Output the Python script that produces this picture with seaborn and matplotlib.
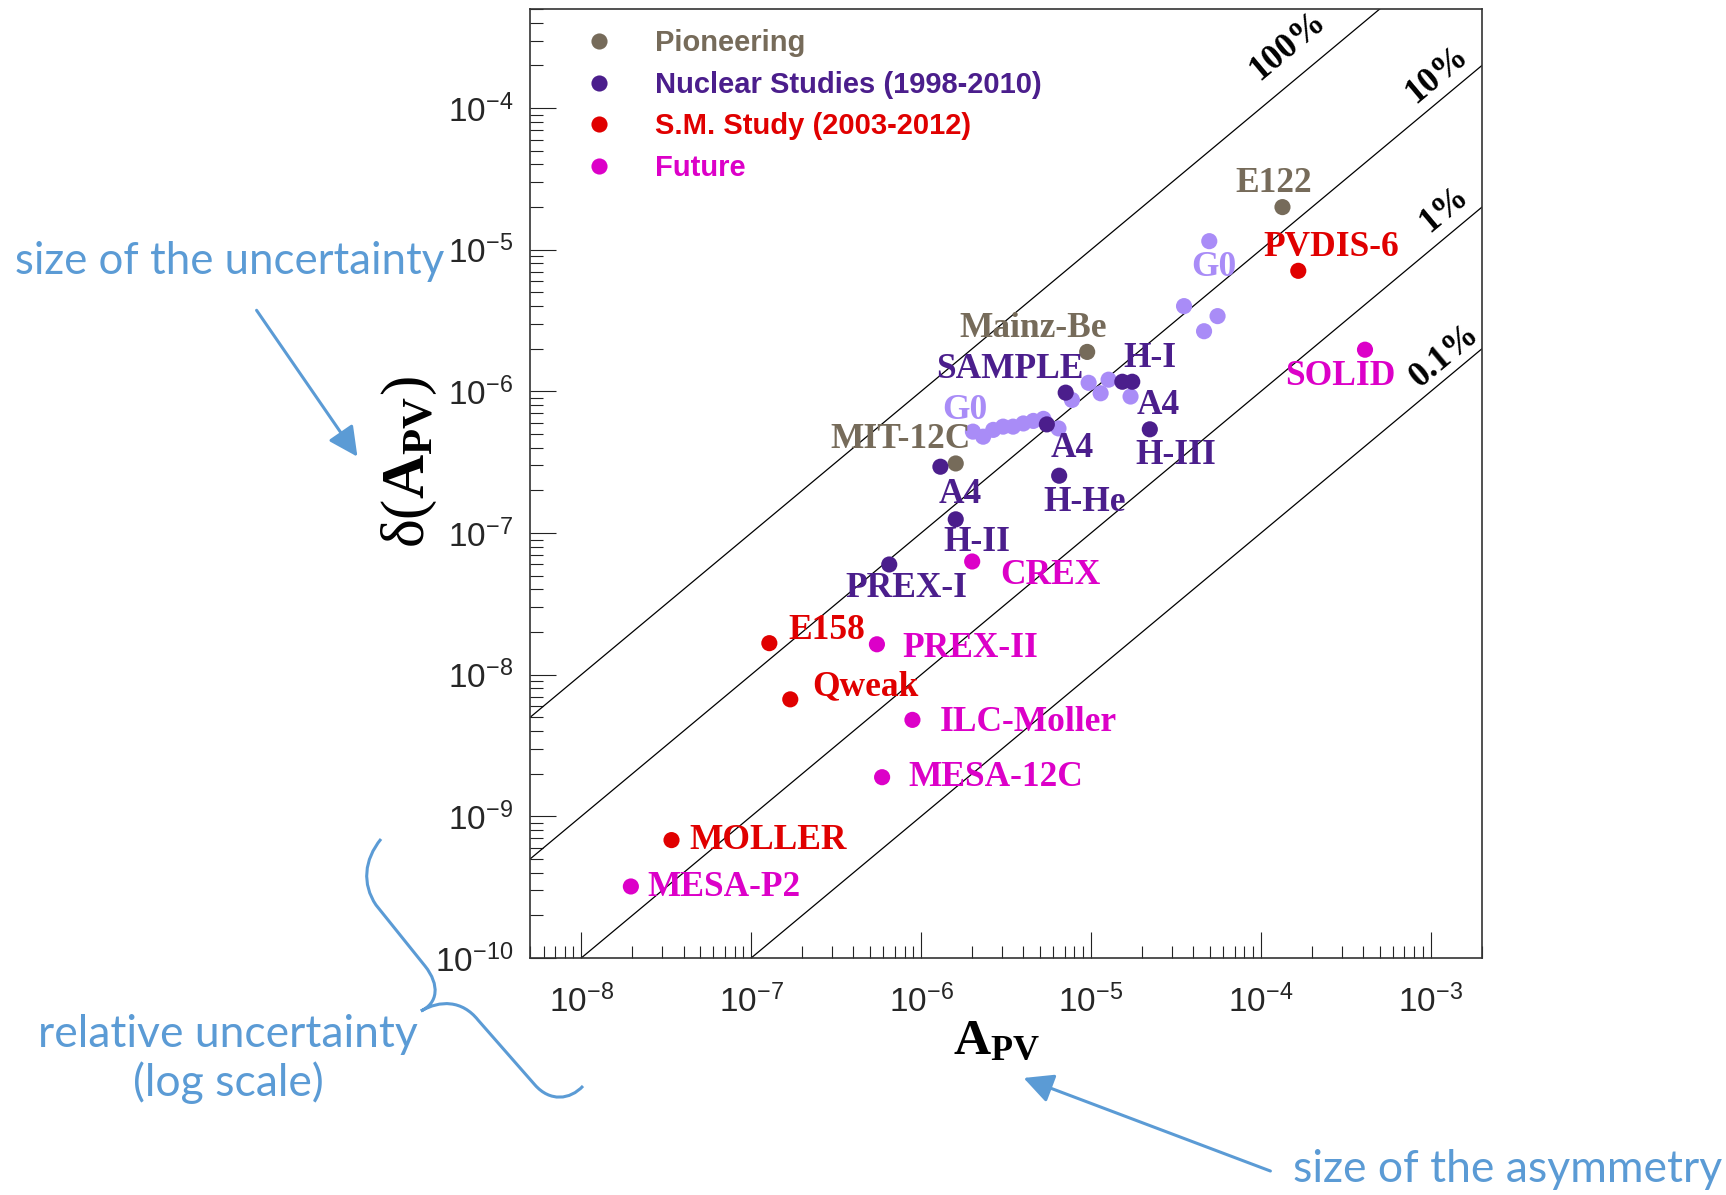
# -------------------------------
# Parity-violation experiments: A_PV vs delta(A_PV)
# -------------------------------

import numpy as np
import pandas as pd
import matplotlib
matplotlib.use("Agg")
import matplotlib.pyplot as plt
import seaborn as sns
from matplotlib.path import Path
from matplotlib.patches import PathPatch, FancyArrowPatch
from matplotlib.ticker import LogLocator, NullFormatter

# -------------------------------
# Data
# -------------------------------

groups = ["Pioneering", "Nuclear Studies (1998-2010)", "S.M. Study (2003-2012)", "Future"]
group_colors = ["#766b5a", "#4b1e8c", "#e00000", "#dc00c8"]
g0_color = "#a98cf7"

pioneer_names = ["E122", "Mainz-Be", "MIT-12C"]
pioneer_apv = [1.34e-4, 9.5e-6, 1.6e-6]
pioneer_err = [2.0e-5, 1.9e-6, 3.1e-7]

nuclear_names = ["SAMPLE", "", "H-I", "A4", "A4", "H-He", "A4", "H-II", "PREX-I"]
nuclear_apv = [7.1e-6, 1.53e-5, 1.75e-5, 5.5e-6, 2.22e-5, 6.5e-6, 1.3e-6, 1.6e-6, 6.5e-7]
nuclear_err = [9.8e-7, 1.17e-6, 1.17e-6, 5.85e-7, 5.4e-7, 2.54e-7, 2.94e-7, 1.25e-7, 6.0e-8]

sm_names = ["PVDIS-6", "E158", "Qweak", "MOLLER"]
sm_apv = [1.66e-4, 1.28e-7, 1.7e-7, 3.4e-8]
sm_err = [7.1e-6, 1.67e-8, 6.7e-9, 6.8e-10]

future_names = ["SOLID", "CREX", "PREX-II", "ILC-Moller", "MESA-12C", "MESA-P2"]
future_apv = [4.1e-4, 2.0e-6, 5.5e-7, 8.9e-7, 5.9e-7, 1.96e-8]
future_err = [1.97e-6, 6.3e-8, 1.64e-8, 4.8e-9, 1.89e-9, 3.2e-10]

g0_apv = [2.02e-6, 2.32e-6, 2.66e-6, 3.04e-6, 3.48e-6, 4.0e-6, 4.58e-6, 5.25e-6, 6.44e-6,
          7.73e-6, 9.69e-6, 1.14e-5, 1.27e-5, 1.71e-5, 4.97e-5, 3.53e-5, 5.56e-5, 4.63e-5]
g0_err = [5.2e-7, 4.79e-7, 5.35e-7, 5.64e-7, 5.64e-7, 5.94e-7, 6.19e-7, 6.4e-7, 5.48e-7,
          8.7e-7, 1.15e-6, 9.7e-7, 1.21e-6, 9.2e-7, 1.15e-5, 4.0e-6, 3.4e-6, 2.66e-6]

rel_fractions = [1.0, 0.1, 0.01, 0.001]
rel_labels = ["100%", "10%", "1%", "0.1%"]

# -------------------------------
# Label placement (offsets in points, alignment)
# -------------------------------

pioneer_offsets = [(-6, 17, "center"), (-39, 17, "center"), (-40, 17, "center")]
nuclear_offsets = [(-40, 17, "center"), (0, 0, "center"), (13, 17, "center"), (18, -17, "center"),
                   (6, 17, "center"), (18, -19, "center"), (14, -20, "center"), (15, -17, "center"),
                   (12, -17, "center")]
sm_offsets = [(24, 17, "center"), (14, 9, "left"), (16, 9, "left"), (13, 0, "left")]
future_offsets = [(-18, -19, "center"), (20, -10, "left"), (18, -3, "left"), (20, -2, "left"),
                  (19, 0, "left"), (12, -1, "left")]
rel_label_pos = [(1.44e-4, 2.74e-4), (1.09e-3, 1.71e-4), (1.2e-3, 1.93e-5), (1.2e-3, 1.79e-6)]

# -------------------------------
# Build table
# -------------------------------

df = pd.concat([
    pd.DataFrame({"apv": pioneer_apv, "err": pioneer_err, "name": pioneer_names, "group": groups[0]}),
    pd.DataFrame({"apv": nuclear_apv, "err": nuclear_err, "name": nuclear_names, "group": groups[1]}),
    pd.DataFrame({"apv": sm_apv, "err": sm_err, "name": sm_names, "group": groups[2]}),
    pd.DataFrame({"apv": future_apv, "err": future_err, "name": future_names, "group": groups[3]}),
], ignore_index=True)
offsets = pioneer_offsets + nuclear_offsets + sm_offsets + future_offsets

# -------------------------------
# Style
# -------------------------------

sns.set_theme(style="white")
plt.rcParams["font.family"] = ["Liberation Sans", "DejaVu Sans"]
plt.rcParams["axes.unicode_minus"] = False
plt.rcParams["mathtext.fontset"] = "custom"
plt.rcParams["mathtext.rm"] = "Liberation Serif"
plt.rcParams["mathtext.bf"] = "Liberation Serif:bold"
plt.rcParams["mathtext.it"] = "Liberation Serif:italic"

label_font = dict(family="Liberation Serif", weight="bold", size=25.5)
blue = "#5b9bd5"

fig = plt.figure(figsize=(17.26, 11.95), dpi=100)
ax = fig.add_axes([0.3071, 0.1983, 0.5515, 0.7941])

# relative-uncertainty lines
xs = np.array([5e-9, 2e-3])
for f in rel_fractions:
    ax.plot(xs, f * xs, color="black", lw=0.9, zorder=1)
for lab, (lx, ly) in zip(rel_labels, rel_label_pos):
    ax.text(lx, ly, lab, rotation=40, rotation_mode="anchor", ha="center", va="center",
            color="black", **label_font)

# G0 points (no legend entry)
sns.scatterplot(x=g0_apv, y=g0_err, color=g0_color, s=135, edgecolor="none",
                legend=False, ax=ax, zorder=2)

# main groups
sns.scatterplot(data=df, x="apv", y="err", hue="group", hue_order=groups,
                palette=group_colors, s=135, edgecolor="none", ax=ax, zorder=3)

# experiment labels
color_of = dict(zip(groups, group_colors))
for (_, row), (dx, dy, ha) in zip(df.iterrows(), offsets):
    if row["name"]:
        ax.annotate(row["name"], (row["apv"], row["err"]), xytext=(dx, dy),
                    textcoords="offset points", ha=ha, va="center",
                    color=color_of[row["group"]], **label_font)
ax.annotate("H-III", (nuclear_apv[4], nuclear_err[4]), xytext=(19, -19),
            textcoords="offset points", ha="center", va="center",
            color=group_colors[1], **label_font)
ax.annotate("G0", (g0_apv[0], g0_err[0]), xytext=(-6, 15), textcoords="offset points",
            ha="center", va="center", color=g0_color, **label_font)
ax.annotate("G0", (g0_apv[14], g0_err[14]), xytext=(3, -19), textcoords="offset points",
            ha="center", va="center", color=g0_color, **label_font)

# -------------------------------
# Axes
# -------------------------------

ax.set(xscale="log", yscale="log", xlim=(5e-9, 2e-3), ylim=(1e-10, 5e-4))
for axis in (ax.xaxis, ax.yaxis):
    axis.set_major_locator(LogLocator(base=10, numticks=20))
    axis.set_minor_locator(LogLocator(base=10, subs=np.arange(2, 10), numticks=200))
    axis.set_minor_formatter(NullFormatter())

ax.tick_params(which="both", direction="in", top=False, right=False, left=True, bottom=True,
               color="#222222", width=0.8)
ax.tick_params(which="major", length=19, labelsize=24)
ax.tick_params(which="minor", length=9)
ax.tick_params(axis="x", which="major", pad=19)
ax.tick_params(axis="y", which="major", pad=12)
for sp in ax.spines.values():
    sp.set_color("#333333")
    sp.set_linewidth(1.2)

ax.set_xlabel(r"$\mathbf{A_{PV}}$", fontsize=37, color="black")
ax.xaxis.set_label_coords(0.4897, -0.0866)
ax.xaxis.label.set_va("center")
ax.set_ylabel(r"$\mathrm{\delta(}\mathbf{A_{PV}}\mathrm{)}$", fontsize=44, color="black")
ax.yaxis.set_label_coords(-0.1266, 0.5227)
ax.yaxis.label.set_va("center")

# legend
old = ax.get_legend()
handles = old.legend_handles
labels = [t.get_text() for t in old.get_texts()]
old.remove()
leg = ax.legend(handles, labels, loc="upper left", bbox_to_anchor=(0.042, 0.979),
                frameon=False, prop=dict(family="Liberation Sans", weight="bold", size=21),
                handletextpad=0.9, labelspacing=0.47, borderpad=0, borderaxespad=0)
for txt, col in zip(leg.get_texts(), group_colors):
    txt.set_color(col)

# -------------------------------
# Explanatory annotations
# -------------------------------

W, H = 1726, 1195

fig.text(15 / W, 1 - 261 / H, "size of the uncertainty", family="Lato", size=31.5,
         color=blue, ha="left", va="center")
fig.text(228 / W, 1 - 1059 / H, "relative uncertainty\n(log scale)", family="Lato", size=32,
         color=blue, ha="center", va="center", multialignment="center")
fig.text(1293 / W, 1 - 1170 / H, "size of the asymmetry", family="Lato", size=32,
         color=blue, ha="left", va="center")

for (x0, y0), (x1, y1) in [((255, 308), (359, 459)), ((1273, 1172), (1021, 1077))]:
    fig.add_artist(FancyArrowPatch((x0 / W, 1 - y0 / H), (x1 / W, 1 - y1 / H),
                                   transform=fig.transFigure,
                                   arrowstyle="-|>,head_length=0.6,head_width=0.3",
                                   mutation_scale=30, lw=2.2, color=blue))

brace_px = [(381, 839), (364, 860), (362, 884), (376, 905), (425, 966),
            (440, 985), (438, 1003), (421, 1011), (440, 1000), (462, 1000), (478, 1020),
            (535, 1085), (550, 1102), (570, 1100), (583, 1086)]
codes = [Path.MOVETO] + [Path.CURVE4] * 3 + [Path.LINETO] + [Path.CURVE4] * 6 + \
        [Path.LINETO] + [Path.CURVE4] * 3
verts = [(x / W, 1 - y / H) for x, y in brace_px]
fig.add_artist(PathPatch(Path(verts, codes), transform=fig.transFigure, fill=False,
                         edgecolor=blue, lw=2.2))

fig.savefig("out.png", dpi=100, facecolor="white")
